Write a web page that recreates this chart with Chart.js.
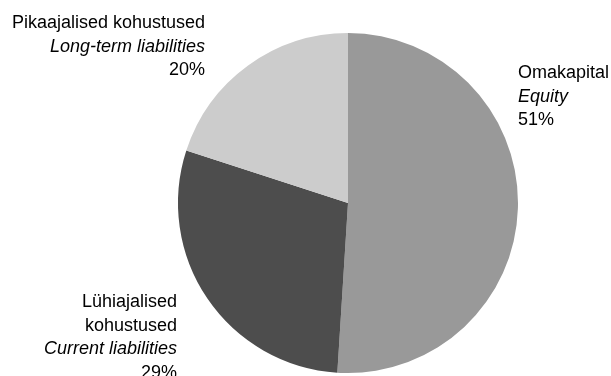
<!DOCTYPE html>
<html>
<head>
<meta charset="utf-8">
<script src="https://cdn.jsdelivr.net/npm/chart.js@4/dist/chart.umd.min.js"></script>
<style>
  html, body { margin: 0; padding: 0; background: #fff; }
  #wrap { width: 611px; height: 376px; }
</style>
</head>
<body>
<div id="wrap"><canvas id="pie" width="611" height="376"></canvas></div>
<script>
// ==================== DATA ====================
const labelsEt = [['Omakapital'], ['Lühiajalised', 'kohustused'], ['Pikaajalised kohustused']];
const labelsEn = ['Equity', 'Current liabilities', 'Long-term liabilities'];
const shares = [51, 29, 20];
const sliceColors = ['#999999', '#4d4d4d', '#cccccc'];

// label placement: x anchor, first baseline, alignment
const labelSpots = [
  { x: 518, y: 78, align: 'left' },
  { x: 177, y: 307, align: 'right' },
  { x: 205, y: 28, align: 'right' }
];

// outside labels (Estonian / English italic / percent)
const outsideLabels = {
  id: 'outsideLabels',
  afterDraw(chart) {
    const ctx = chart.ctx;
    ctx.save();
    ctx.fillStyle = '#000';
    ctx.textBaseline = 'alphabetic';
    const lh = 23.5;
    shares.forEach((v, i) => {
      const s = labelSpots[i];
      ctx.textAlign = s.align;
      let y = s.y;
      const lines = [
        ...labelsEt[i].map(t => ({ t, font: '18px "Liberation Sans", Arial, sans-serif' })),
        { t: labelsEn[i], font: 'italic 18px "Liberation Sans", Arial, sans-serif' },
        { t: v + '%', font: '18px "Liberation Sans", Arial, sans-serif' }
      ];
      lines.forEach(l => {
        ctx.font = l.font;
        ctx.fillText(l.t, s.x, y);
        y += lh;
      });
    });
    ctx.restore();
  }
};

new Chart(document.getElementById('pie').getContext('2d'), {
  type: 'pie',
  data: {
    labels: labelsEn,
    datasets: [{ data: shares, backgroundColor: sliceColors, borderWidth: 0, hoverOffset: 0 }]
  },
  options: {
    responsive: false,
    animation: false,
    layout: { padding: { left: 177, right: 92, top: 33, bottom: 3 } },
    plugins: { legend: { display: false }, tooltip: { enabled: false } }
  },
  plugins: [outsideLabels]
});
</script>
</body>
</html>
